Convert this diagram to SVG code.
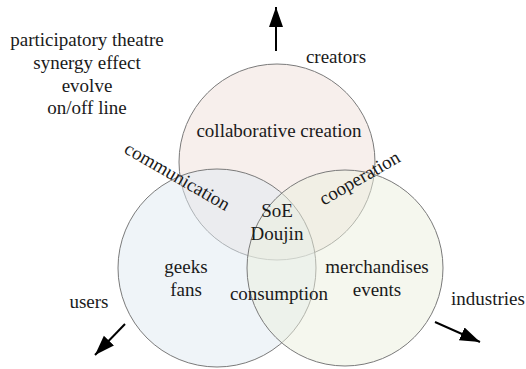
<svg xmlns="http://www.w3.org/2000/svg" width="526" height="369" viewBox="0 0 526 369">
<style>
text{font-size:19px;fill:#1a1a1a;text-anchor:middle}
.c{stroke:#7a7a7a;stroke-width:1;fill-opacity:0.5}
.a{stroke:#000;stroke-width:2;fill:none;marker-end:url(#ah)}
</style>
<defs>
<marker id="ah" markerUnits="userSpaceOnUse" markerWidth="22" markerHeight="16" refX="20" refY="7" orient="auto">
<path d="M0,0 L20,7 L0,14 z" fill="#000"/>
</marker>
</defs>
<rect width="526" height="369" fill="#fff"/>
<g id="circle-creators"><circle class="c" cx="277" cy="162" r="98" fill="#f0e0da"/></g>
<g id="circle-users"><circle class="c" cx="217" cy="268" r="99" fill="#dfe9f1"/></g>
<g id="circle-industries"><circle class="c" cx="345" cy="268" r="98" fill="#ebefde"/></g>
<g id="notes" font-family="Liberation Serif, serif">
<text x="87" y="46">participatory theatre</text>
<text x="87" y="69">synergy effect</text>
<text x="87" y="92">evolve</text>
<text x="87" y="114">on/off line</text>
</g>
<g id="labels" font-family="Liberation Serif, serif">
<text x="336" y="63">creators</text>
<text x="89" y="308">users</text>
<text x="488" y="305">industries</text>
<text x="279" y="137">collaborative creation</text>
<text x="186" y="273">geeks</text>
<text x="186" y="296">fans</text>
<text x="377" y="273">merchandises</text>
<text x="377" y="296">events</text>
<text x="279" y="300">consumption</text>
<text x="277" y="217">SoE</text>
<text x="277" y="240">Doujin</text>
<text transform="translate(174.3,181.8) rotate(30)">communication</text>
<text transform="translate(362.7,183.3) rotate(-30)">cooperation</text>
</g>
<g id="connectors">
<line class="a" x1="276" y1="51" x2="276" y2="7"/>
<line class="a" x1="125" y1="324" x2="95" y2="355"/>
<line class="a" x1="435" y1="322" x2="480" y2="342"/>
</g>
</svg>
